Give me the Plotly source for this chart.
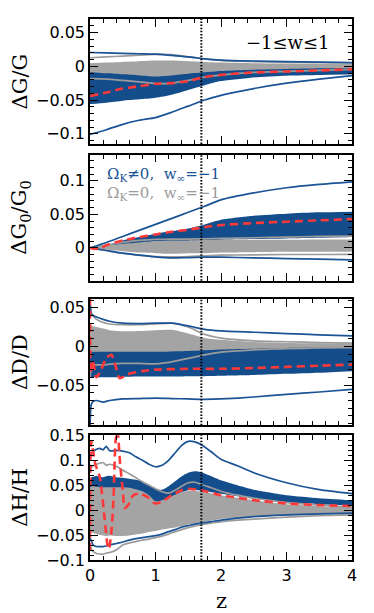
import plotly.graph_objects as go
from plotly.subplots import make_subplots

# ---------------- data ----------------
Z_STAR = 1.7

# Panel 1 : dG/G
z_g = [0, 0.25, 0.5, 0.75, 1.0, 1.25, 1.5, 1.75, 2.0, 2.5, 3.0, 3.5, 4.0]
g_blue_band_lo = [-0.056, -0.054, -0.051, -0.049, -0.0466, -0.042, -0.035, -0.028, -0.022, -0.0165, -0.014, -0.013, -0.012]
g_blue_band_hi = [-0.007, -0.0085, -0.010, -0.0115, -0.013, -0.0115, -0.009, -0.007, -0.005, -0.003, -0.002, -0.001, -0.0005]
g_gray_band_lo = [-0.009, -0.0105, -0.012, -0.0135, -0.015, -0.0135, -0.011, -0.009, -0.007, -0.005, -0.004, -0.003, -0.0025]
g_gray_band_hi = [0.0045, 0.0055, 0.0065, 0.0075, 0.0085, 0.0085, 0.0075, 0.0065, 0.0055, 0.0045, 0.004, 0.0035, 0.0035]
g_blue_line_hi = [0.0204, 0.0197, 0.019, 0.0185, 0.018, 0.016, 0.014, 0.011, 0.0092, 0.0078, 0.0068, 0.006, 0.0054]
g_blue_line_lo = [-0.101, -0.094, -0.086, -0.080, -0.076, -0.068, -0.059, -0.050, -0.043, -0.033, -0.025, -0.019, -0.014]
g_gray_line_hi = [0.0126, 0.014, 0.015, 0.0165, 0.0175, 0.0172, 0.014, 0.011, 0.0088, 0.007, 0.006, 0.0055, 0.005]
g_gray_line_lo = [-0.0184, -0.019, -0.021, -0.023, -0.0257, -0.025, -0.021, -0.016, -0.013, -0.009, -0.0075, -0.006, -0.0045]
g_red = [-0.044, -0.039, -0.033, -0.0296, -0.026, -0.025, -0.022, -0.016, -0.0127, -0.0092, -0.0077, -0.0062, -0.0045]

# Panel 2 : dG0/G0
z_g0 = [0, 0.25, 0.5, 0.75, 1.0, 1.25, 1.5, 1.75, 2.0, 2.5, 3.0, 3.5, 4.0]
g0_blue_band_lo = [0, 0.003, 0.005, 0.007, 0.008, 0.009, 0.010, 0.011, 0.012, 0.013, 0.014, 0.015, 0.016]
g0_blue_band_hi = [0, 0.004, 0.011, 0.016, 0.021, 0.025, 0.029, 0.035, 0.042, 0.048, 0.051, 0.053, 0.054]
g0_gray_band_lo = [0, -0.003, -0.005, -0.007, -0.008, -0.009, -0.008, -0.008, -0.007, -0.0065, -0.006, -0.006, -0.006]
g0_gray_band_hi = [0, 0.003, 0.006, 0.008, 0.010, 0.011, 0.011, 0.0115, 0.012, 0.012, 0.012, 0.0125, 0.0125]
g0_blue_line_hi = [0, 0.008, 0.017, 0.026, 0.035, 0.044, 0.053, 0.062, 0.0716, 0.082, 0.0897, 0.0947, 0.0985]
g0_blue_line_lo = [0, -0.004, -0.008, -0.011, -0.0135, -0.015, -0.0145, -0.014, -0.014, -0.015, -0.016, -0.017, -0.018]
g0_gray_line_hi = [0, 0.004, 0.008, 0.011, 0.0125, 0.013, 0.013, 0.0135, 0.014, 0.015, 0.016, 0.017, 0.0176]
g0_gray_line_lo = [0, -0.004, -0.008, -0.011, -0.013, -0.0135, -0.013, -0.012, -0.011, -0.0105, -0.010, -0.010, -0.0098]
z_g0_red = [0, 0.08, 0.16, 0.25, 0.5, 0.75, 1.0, 1.25, 1.5, 1.75, 2.0, 2.5, 3.0, 3.5, 4.0]
g0_red = [0, -0.0015, -0.001, 0.004, 0.011, 0.016, 0.020, 0.024, 0.027, 0.031, 0.034, 0.037, 0.039, 0.041, 0.043]

# Panel 3 : dD/D
z_d = [0, 0.02, 0.05, 0.1, 0.2, 0.3, 0.5, 0.75, 1.0, 1.25, 1.5, 1.75, 2.0, 2.5, 3.0, 3.5, 4.0]
d_blue_band_lo = [-0.040, -0.040, -0.040, -0.040, -0.040, -0.040, -0.0395, -0.039, -0.039, -0.039, -0.0385, -0.0385, -0.038, -0.037, -0.0355, -0.034, -0.032]
d_blue_band_hi = [-0.006, -0.005, -0.005, -0.005, -0.005, -0.005, -0.005, -0.005, -0.005, -0.0045, -0.004, -0.003, -0.002, -0.001, 0.0, 0.0005, 0.001]
d_gray_band_lo = [-0.008, -0.007, -0.007, -0.007, -0.007, -0.007, -0.007, -0.007, -0.007, -0.0065, -0.006, -0.005, -0.004, -0.003, -0.002, -0.0015, -0.001]
d_gray_band_hi = [0.030, 0.027, 0.026, 0.025, 0.023, 0.021, 0.0196, 0.020, 0.021, 0.0215, 0.0167, 0.011, 0.0085, 0.0058, 0.0045, 0.004, 0.0035]
d_blue_line_hi = [0.060, 0.042, 0.040, 0.038, 0.035, 0.0325, 0.030, 0.0295, 0.030, 0.030, 0.0265, 0.022, 0.020, 0.0183, 0.0166, 0.015, 0.0136]
d_blue_line_lo = [-0.105, -0.075, -0.071, -0.070, -0.072, -0.070, -0.068, -0.0675, -0.067, -0.0675, -0.068, -0.0685, -0.068, -0.0655, -0.062, -0.059, -0.0556]
d_gray_line_hi = [0.056, 0.044, 0.039, 0.035, 0.031, 0.029, 0.028, 0.028, 0.029, 0.030, 0.025, 0.0155, 0.0106, 0.0072, 0.006, 0.005, 0.0043]
d_gray_line_lo = [-0.040, -0.030, -0.025, -0.024, -0.024, -0.023, -0.022, -0.022, -0.0225, -0.020, -0.0155, -0.011, -0.0075, -0.0045, -0.003, -0.002, -0.0015]
z_d_red = [0, 0.012, 0.04, 0.1, 0.17, 0.25, 0.33, 0.39, 0.45, 0.58, 0.8, 1.0, 1.5, 1.7, 2.0, 2.5, 3.0, 3.5, 4.0]
d_red = [0.08, -0.035, -0.018, -0.040, -0.030, -0.015, -0.011, -0.025, -0.041, -0.036, -0.032, -0.030, -0.029, -0.029, -0.029, -0.028, -0.0265, -0.025, -0.0235]

# Panel 4 : dH/H
z_h = [0, 0.02, 0.05, 0.1, 0.15, 0.2, 0.25, 0.3, 0.4, 0.5, 0.6, 0.7, 0.8, 0.9, 1.0, 1.1, 1.2, 1.3, 1.4, 1.5,
       1.6, 1.7, 1.85, 2.0, 2.25, 2.5, 3.0, 3.5, 4.0]
h_blue_band_lo = [0.040, 0.042, 0.042, 0.041, 0.040, 0.040, 0.040, 0.040, 0.040, 0.040, 0.039, 0.036, 0.032, 0.025, 0.015,
                  0.017, 0.022, 0.030, 0.036, 0.040, 0.041, 0.039, 0.036, 0.033, 0.028, 0.023, 0.016, 0.012, 0.010]
h_blue_band_hi = [0.060, 0.066, 0.067, 0.069, 0.067, 0.066, 0.068, 0.069, 0.066, 0.065, 0.063, 0.061, 0.058, 0.050, 0.043,
                  0.041, 0.048, 0.058, 0.068, 0.075, 0.078, 0.076, 0.068, 0.060, 0.050, 0.041, 0.030, 0.024, 0.020]
h_gray_band_lo = [-0.040, -0.045, -0.046, -0.048, -0.050, -0.051, -0.052, -0.051, -0.052, -0.052, -0.051, -0.049, -0.047, -0.044, -0.042,
                  -0.039, -0.037, -0.035, -0.032, -0.029, -0.027, -0.025, -0.021, -0.018, -0.016, -0.014, -0.011, -0.008, -0.006]
h_gray_band_hi = [0.045, 0.048, 0.048, 0.047, 0.046, 0.046, 0.046, 0.046, 0.046, 0.046, 0.045, 0.042, 0.038, 0.030, 0.018,
                  0.020, 0.025, 0.031, 0.036, 0.039, 0.039, 0.037, 0.034, 0.030, 0.025, 0.020, 0.012, 0.008, 0.006]
h_blue_line_hi = [0.105, 0.112, 0.118, 0.122, 0.124, 0.121, 0.128, 0.119, 0.120, 0.1185, 0.115, 0.107, 0.100, 0.092, 0.087,
                  0.090, 0.100, 0.115, 0.130, 0.138, 0.137, 0.131, 0.117, 0.102, 0.089, 0.075, 0.055, 0.041, 0.033]
h_blue_line_lo = [-0.055, -0.062, -0.070, -0.073, -0.073, -0.073, -0.072, -0.070, -0.067, -0.064, -0.060, -0.057, -0.055, -0.053, -0.051,
                  -0.048, -0.043, -0.039, -0.034, -0.031, -0.028, -0.026, -0.023, -0.020, -0.016, -0.013, -0.0095, -0.0075, -0.006]
h_gray_line_hi = [0.080, 0.086, 0.089, 0.092, 0.094, 0.0955, 0.090, 0.092, 0.088, 0.080, 0.073, 0.065, 0.057, 0.050, 0.043,
                  0.037, 0.034, 0.040, 0.048, 0.055, 0.056, 0.052, 0.045, 0.038, 0.030, 0.024, 0.015, 0.010, 0.006]
h_gray_line_lo = [-0.070, -0.078, -0.083, -0.087, -0.088, -0.088, -0.086, -0.085, -0.080, -0.070, -0.066, -0.063, -0.060, -0.058, -0.055,
                  -0.052, -0.048, -0.043, -0.039, -0.035, -0.032, -0.029, -0.026, -0.023, -0.020, -0.018, -0.014, -0.011, -0.0095]
z_h_red = [0, 0.02, 0.08, 0.15, 0.22, 0.27, 0.29, 0.33, 0.36, 0.39, 0.42, 0.46, 0.5, 0.53, 0.585, 0.66, 0.76, 0.87, 0.99,
           1.1, 1.25, 1.4, 1.5, 1.65, 1.7, 2.0, 2.5, 3.0, 3.5, 4.0]
h_red = [-0.082, 0.138, 0.093, 0.066, -0.013, -0.072, -0.078, -0.039, 0.026, 0.138, 0.16, 0.092, 0.04, 0.004, 0.011, 0.030,
         0.033, 0.027, 0.0135, 0.017, 0.030, 0.040, 0.043, 0.041, 0.0398, 0.030, 0.020, 0.0135, 0.010, 0.0083]

Y_TITLES = ["ΔG/G", "ΔG<sub>0</sub>/G<sub>0</sub>", "ΔD/D", "ΔH/H"]
Y_RANGES = [[-0.115, 0.07], [-0.049, 0.139], [-0.102, 0.0615], [-0.1, 0.15]]
Y_TICKVALS = [[-0.1, -0.05, 0, 0.05], [0, 0.05, 0.1], [-0.05, 0, 0.05], [-0.1, -0.05, 0, 0.05, 0.1, 0.15]]
Y_TICKTEXT = [["−0.1", "−0.05", "0", "0.05"], ["0", "0.05", "0.1"], ["−0.05", "0", "0.05"],
              ["−0.1", "−0.05", "0", "0.05", "0.1", "0.15"]]
X_TICKVALS = [0, 1, 2, 3, 4]
X_TICKTEXT = ["0", "1", "2", "3", "4"]

# ---------------- styling ----------------
BLUE_FILL = "#144d8c"
BLUE_LINE = "#1a5496"
GRAY_FILL = "#a4a4a4"
GRAY_LINE = "#9b9b9b"
RED = "#ff3838"
SMOOTH = 0.6

fig = make_subplots(rows=4, cols=1, shared_xaxes=True, vertical_spacing=0.02)


def band(row, z, lo, hi, color):
    fig.add_trace(go.Scatter(x=z, y=lo, mode="lines", hoverinfo="skip", showlegend=False,
                             line=dict(width=0, shape="spline", smoothing=SMOOTH, color=color)), row=row, col=1)
    fig.add_trace(go.Scatter(x=z, y=hi, mode="lines", fill="tonexty", fillcolor=color, hoverinfo="skip",
                             showlegend=False,
                             line=dict(width=0, shape="spline", smoothing=SMOOTH, color=color)), row=row, col=1)


def curve(row, z, y, color, width=1.7, dash=None):
    fig.add_trace(go.Scatter(x=z, y=y, mode="lines", hoverinfo="skip", showlegend=False,
                             line=dict(width=width, color=color, dash=dash, shape="spline", smoothing=SMOOTH)),
                  row=row, col=1)


panels = [
    (z_g, g_blue_band_lo, g_blue_band_hi, g_gray_band_lo, g_gray_band_hi, g_gray_line_hi, g_gray_line_lo,
     g_blue_line_hi, g_blue_line_lo, z_g, g_red),
    (z_g0, g0_blue_band_lo, g0_blue_band_hi, g0_gray_band_lo, g0_gray_band_hi, g0_gray_line_hi, g0_gray_line_lo,
     g0_blue_line_hi, g0_blue_line_lo, z_g0_red, g0_red),
    (z_d, d_blue_band_lo, d_blue_band_hi, d_gray_band_lo, d_gray_band_hi, d_gray_line_hi, d_gray_line_lo,
     d_blue_line_hi, d_blue_line_lo, z_d_red, d_red),
    (z_h, h_blue_band_lo, h_blue_band_hi, h_gray_band_lo, h_gray_band_hi, h_gray_line_hi, h_gray_line_lo,
     h_blue_line_hi, h_blue_line_lo, z_h_red, h_red),
]

for i, (z, bblo, bbhi, gblo, gbhi, glhi, gllo, blhi, bllo, zr, red) in enumerate(panels):
    row = i + 1
    band(row, z, bblo, bbhi, BLUE_FILL)
    band(row, z, gblo, gbhi, GRAY_FILL)
    curve(row, z, glhi, GRAY_LINE)
    curve(row, z, gllo, GRAY_LINE)
    curve(row, z, blhi, BLUE_LINE)
    curve(row, z, bllo, BLUE_LINE)
    curve(row, zr, red, RED, width=2.6, dash="8px,5px")

# ---------------- layout ----------------
W, H = 374, 613
ML, MR, MT, MB = 90, 22, 10, 53
domains = [[0.7691, 1.0], [0.5164, 0.7491], [0.2491, 0.4827], [0.0, 0.2304]]

axis_common = dict(showline=True, linecolor="black", linewidth=1.5, mirror="ticks", ticks="inside",
                   ticklen=8, tickwidth=1.3, tickcolor="black", showgrid=False, zeroline=False,
                   tickfont=dict(family="DejaVu Sans", size=16, color="black"))

for i in range(4):
    xname = "xaxis" if i == 0 else f"xaxis{i + 1}"
    yname = "yaxis" if i == 0 else f"yaxis{i + 1}"
    fig.layout[xname].update(range=[0, 4], tickvals=X_TICKVALS, ticktext=X_TICKTEXT,
                             showticklabels=(i == 3),
                             minor=dict(ticks="inside", ticklen=4.5, tickwidth=1.1, tickcolor="black", dtick=0.2),
                             **axis_common)
    fig.layout[yname].update(range=Y_RANGES[i], domain=domains[i], tickvals=Y_TICKVALS[i],
                             ticktext=Y_TICKTEXT[i],
                             minor=dict(ticks="inside", ticklen=4.5, tickwidth=1.1, tickcolor="black", dtick=0.01),
                             **axis_common)
    yref_dom = "y domain" if i == 0 else f"y{i + 1} domain"
    xref = "x" if i == 0 else f"x{i + 1}"
    fig.add_shape(type="line", xref=xref, yref=yref_dom, x0=Z_STAR, x1=Z_STAR, y0=0, y1=1,
                  line=dict(color="black", width=2, dash="1.5px,1.6px"))
    dom = domains[i]
    fig.add_annotation(text=Y_TITLES[i], xref="paper", yref="paper", x=-0.267, y=(dom[0] + dom[1]) / 2,
                       textangle=-90, showarrow=False, xanchor="center", yanchor="middle",
                       font=dict(family="DejaVu Serif", size=21, color="black"))

fig.add_annotation(text="z", xref="paper", yref="paper", x=0.5, y=-0.0758, showarrow=False,
                   xanchor="center", yanchor="middle",
                   font=dict(family="DejaVu Serif", size=21, color="black"))
fig.add_annotation(text="−1≤w≤1", xref="paper", yref="paper", x=0.9225, y=0.9558, showarrow=False,
                   xanchor="right", yanchor="middle",
                   font=dict(family="DejaVu Serif", size=18, color="black"))
fig.add_annotation(text="Ω<sub>K</sub>≠0,  w<sub>∞</sub>=−1", xref="paper", yref="paper", x=0.057, y=0.7127,
                   showarrow=False, xanchor="left", yanchor="middle",
                   font=dict(family="DejaVu Serif", size=15, color=BLUE_LINE))
fig.add_annotation(text="Ω<sub>K</sub>=0,  w<sub>∞</sub>=−1", xref="paper", yref="paper", x=0.057, y=0.677,
                   showarrow=False, xanchor="left", yanchor="middle",
                   font=dict(family="DejaVu Serif", size=15, color=GRAY_LINE))

fig.update_layout(width=W, height=H, autosize=False, margin=dict(l=ML, r=MR, t=MT, b=MB, pad=0),
                  paper_bgcolor="white", plot_bgcolor="white", showlegend=False)

fig.write_html("out.html", config={"displayModeBar": False},
               post_script="document.body.style.margin='0';document.body.style.overflow='hidden';")
